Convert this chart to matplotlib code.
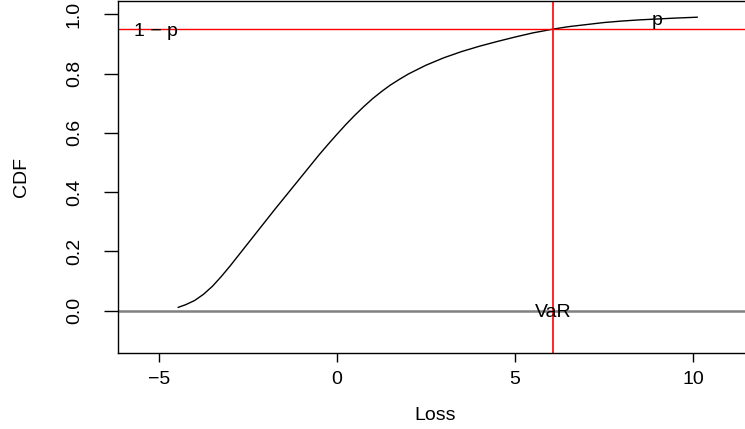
import numpy as np
import matplotlib
matplotlib.use("Agg")
from matplotlib import pyplot as plt

plt.rcParams["font.family"] = ["Liberation Sans", "DejaVu Sans"]

loss = [-4.46, -4.25, -4.0, -3.75, -3.5, -3.25, -3.0, -2.75, -2.5, -2.25,
        -2.0, -1.75, -1.5, -1.25, -1.0, -0.75, -0.5, -0.25, 0.0, 0.25,
        0.5, 0.75, 1.0, 1.25, 1.5, 1.75, 2.0, 2.5, 3.0, 3.5, 4.0, 4.5,
        5.0, 5.5, 6.08, 6.5, 7.0, 7.5, 8.0, 8.5, 9.0, 9.5, 10.12]
cdf = [0.011, 0.020, 0.034, 0.055, 0.082, 0.115, 0.151, 0.189, 0.227,
       0.265, 0.303, 0.341, 0.378, 0.415, 0.452, 0.489, 0.526, 0.561,
       0.595, 0.628, 0.659, 0.688, 0.715, 0.739, 0.761, 0.780, 0.798,
       0.828, 0.853, 0.874, 0.892, 0.908, 0.923, 0.937, 0.950, 0.958,
       0.965, 0.972, 0.977, 0.981, 0.984, 0.987, 0.990]

p_level = 0.95
var_loss = 6.08

xticks = [-5, 0, 5, 10]
yticks = [0.0, 0.2, 0.4, 0.6, 0.8, 1.0]

fig = plt.figure(figsize=(7.45, 4.29), dpi=100)
ax = fig.add_axes([0.158, 0.1765, 0.8514, 0.8207])

ax.plot(loss, cdf, color="black", lw=1.0)
ax.axhline(0, color="#808080", lw=1.8)
ax.axhline(p_level, color="red", lw=1.0)
ax.axvline(var_loss, color="red", lw=1.2)

fs = 14
ax.text(-5.1, p_level, "1 \u2212 p", ha="center", va="center_baseline", fontsize=fs)
ax.text(9.0, 0.964, "p", ha="center", va="baseline", fontsize=fs)
ax.text(var_loss, 0.0, "VaR", ha="center", va="center_baseline", fontsize=fs)

ax.set_xlim(-6.16, 11.66)
ax.set_ylim(-0.144, 1.044)
ax.set_xticks(xticks)
ax.set_yticks(yticks)
ax.set_yticklabels(["%.1f" % t for t in yticks], rotation=90, va="center")
ax.tick_params(axis="x", length=6.5, width=1.0, pad=6, labelsize=fs)
ax.tick_params(axis="y", length=10, width=1.0, pad=15, labelsize=fs)
for s in ax.spines.values():
    s.set_linewidth(1.0)

ax.set_xlabel("Loss", fontsize=fs, labelpad=14)
ax.set_ylabel("CDF", fontsize=fs, labelpad=26)

fig.savefig("out.png", dpi=100)
